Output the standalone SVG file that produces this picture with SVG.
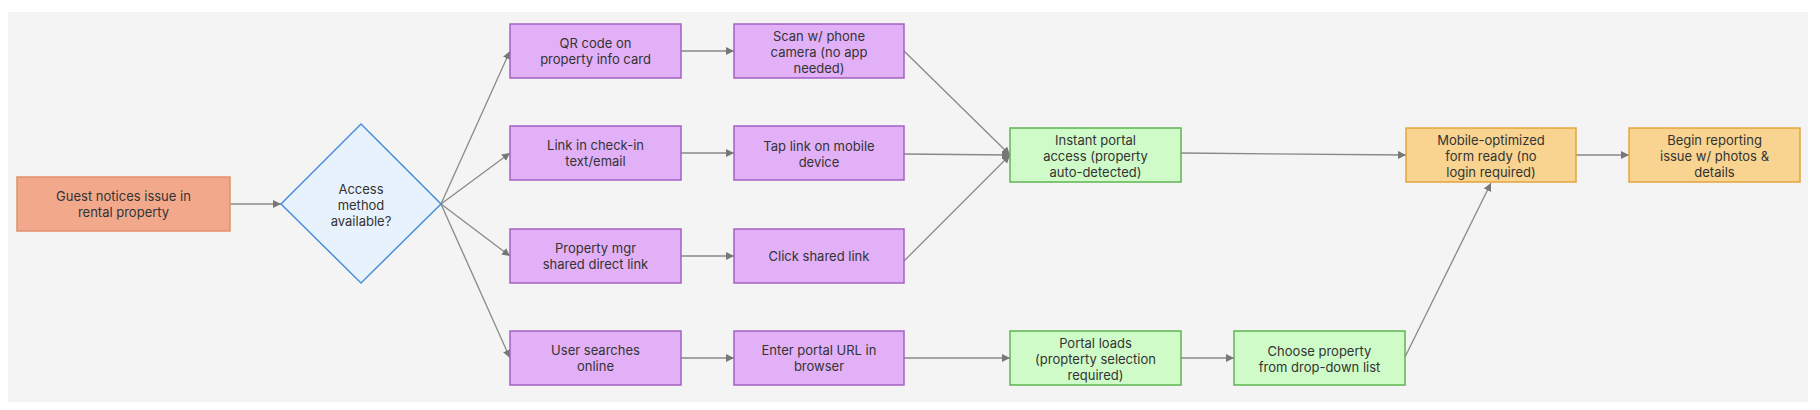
<svg xmlns="http://www.w3.org/2000/svg" width="1820" height="410" viewBox="0 0 1820 410">
<defs>
<style>
.t{font-family:Inter,"Noto Sans","Liberation Sans",sans-serif;font-size:13px;fill:#333;text-anchor:middle}
.e{fill:none;stroke:#888;stroke-width:1.3}
.p{fill:#e2b0f7;stroke:#a261c2;stroke-width:1.5}
.g{fill:#cffbc8;stroke:#5fb352;stroke-width:1.5}
.o{fill:#f8d490;stroke:#e3a43e;stroke-width:1.5}
</style>
<marker id="a" viewBox="0 0 10 10" refX="10" refY="5" markerWidth="8" markerHeight="8" markerUnits="userSpaceOnUse" orient="auto">
<path d="M0,0L10,5L0,10z" fill="#777"/>
</marker>
</defs>
<rect x="0" y="0" width="1820" height="410" fill="#fff"/>
<rect x="8" y="12" width="1800" height="390" fill="#f4f4f4"/>
<g id="connectors">
<line class="e" x1="230" y1="204" x2="281" y2="204" marker-end="url(#a)"/>
<line class="e" x1="441" y1="204" x2="510" y2="51" marker-end="url(#a)"/>
<line class="e" x1="441" y1="204" x2="510" y2="153" marker-end="url(#a)"/>
<line class="e" x1="441" y1="204" x2="510" y2="256" marker-end="url(#a)"/>
<line class="e" x1="441" y1="204" x2="510" y2="358" marker-end="url(#a)"/>
<line class="e" x1="681" y1="51" x2="734" y2="51" marker-end="url(#a)"/>
<line class="e" x1="681" y1="153" x2="734" y2="153" marker-end="url(#a)"/>
<line class="e" x1="681" y1="256" x2="734" y2="256" marker-end="url(#a)"/>
<line class="e" x1="681" y1="358" x2="734" y2="358" marker-end="url(#a)"/>
<line class="e" x1="904" y1="51" x2="1010" y2="155" marker-end="url(#a)"/>
<line class="e" x1="904" y1="154" x2="1010" y2="155" marker-end="url(#a)"/>
<line class="e" x1="904" y1="261" x2="1010" y2="155" marker-end="url(#a)"/>
<line class="e" x1="904" y1="358" x2="1010" y2="358" marker-end="url(#a)"/>
<line class="e" x1="1181" y1="153" x2="1406" y2="155" marker-end="url(#a)"/>
<line class="e" x1="1181" y1="358" x2="1234" y2="358" marker-end="url(#a)"/>
<line class="e" x1="1405" y1="357" x2="1491" y2="183" marker-end="url(#a)"/>
<line class="e" x1="1576" y1="155" x2="1629" y2="155" marker-end="url(#a)"/>
</g>
<g id="n1">
<rect x="17" y="177" width="213" height="54" fill="#f2a98b" stroke="#e0906f" stroke-width="1.5"/>
<text class="t" x="123.5" y="200.5">Guest notices issue in</text>
<text class="t" x="123.5" y="216.5">rental property</text>
</g>
<g id="n2">
<polygon points="361,124 441,204 361,283 281,204" fill="#e8f2fc" stroke="#4a8fd9" stroke-width="1.5"/>
<text class="t" x="361" y="193.5">Access</text>
<text class="t" x="361" y="209.5">method</text>
<text class="t" x="361" y="225.5">available?</text>
</g>
<g id="n3">
<rect class="p" x="510" y="24" width="171" height="54"/>
<text class="t" x="595.5" y="47.5">QR code on</text>
<text class="t" x="595.5" y="63.5">property info card</text>
</g>
<g id="n4">
<rect class="p" x="510" y="126" width="171" height="54"/>
<text class="t" x="595.5" y="149.5">Link in check-in</text>
<text class="t" x="595.5" y="165.5">text/email</text>
</g>
<g id="n5">
<rect class="p" x="510" y="229" width="171" height="54"/>
<text class="t" x="595.5" y="252.5">Property mgr</text>
<text class="t" x="595.5" y="268.5">shared direct link</text>
</g>
<g id="n6">
<rect class="p" x="510" y="331" width="171" height="54"/>
<text class="t" x="595.5" y="355">User searches</text>
<text class="t" x="595.5" y="371">online</text>
</g>
<g id="n7">
<rect class="p" x="734" y="24" width="170" height="54"/>
<text class="t" x="819" y="40.5">Scan w/ phone</text>
<text class="t" x="819" y="56.5">camera (no app</text>
<text class="t" x="819" y="72.5">needed)</text>
</g>
<g id="n8">
<rect class="p" x="734" y="126" width="170" height="54"/>
<text class="t" x="819" y="150.5">Tap link on mobile</text>
<text class="t" x="819" y="166.5">device</text>
</g>
<g id="n9">
<rect class="p" x="734" y="229" width="170" height="54"/>
<text class="t" x="819" y="260.5">Click shared link</text>
</g>
<g id="n10">
<rect class="p" x="734" y="331" width="170" height="54"/>
<text class="t" x="819" y="355">Enter portal URL in</text>
<text class="t" x="819" y="371">browser</text>
</g>
<g id="n11">
<rect class="g" x="1010" y="128" width="171" height="54"/>
<text class="t" x="1095.5" y="144.5">Instant portal</text>
<text class="t" x="1095.5" y="160.5">access (property</text>
<text class="t" x="1095.5" y="176.5">auto-detected)</text>
</g>
<g id="n12">
<rect class="g" x="1010" y="331" width="171" height="54"/>
<text class="t" x="1095.5" y="347.5">Portal loads</text>
<text class="t" x="1095.5" y="363.5">(propterty selection</text>
<text class="t" x="1095.5" y="379.5">required)</text>
</g>
<g id="n13">
<rect class="g" x="1234" y="331" width="171" height="54"/>
<text class="t" x="1319.5" y="355.5">Choose property</text>
<text class="t" x="1319.5" y="371.5">from drop-down list</text>
</g>
<g id="n14">
<rect class="o" x="1406" y="128" width="170" height="54"/>
<text class="t" x="1491" y="144.5">Mobile-optimized</text>
<text class="t" x="1491" y="160.5">form ready (no</text>
<text class="t" x="1491" y="176.5">login required)</text>
</g>
<g id="n15">
<rect class="o" x="1629" y="128" width="171" height="54"/>
<text class="t" x="1714.5" y="144.5">Begin reporting</text>
<text class="t" x="1714.5" y="160.5">issue w/ photos &amp;</text>
<text class="t" x="1714.5" y="176.5">details</text>
</g>
</svg>
